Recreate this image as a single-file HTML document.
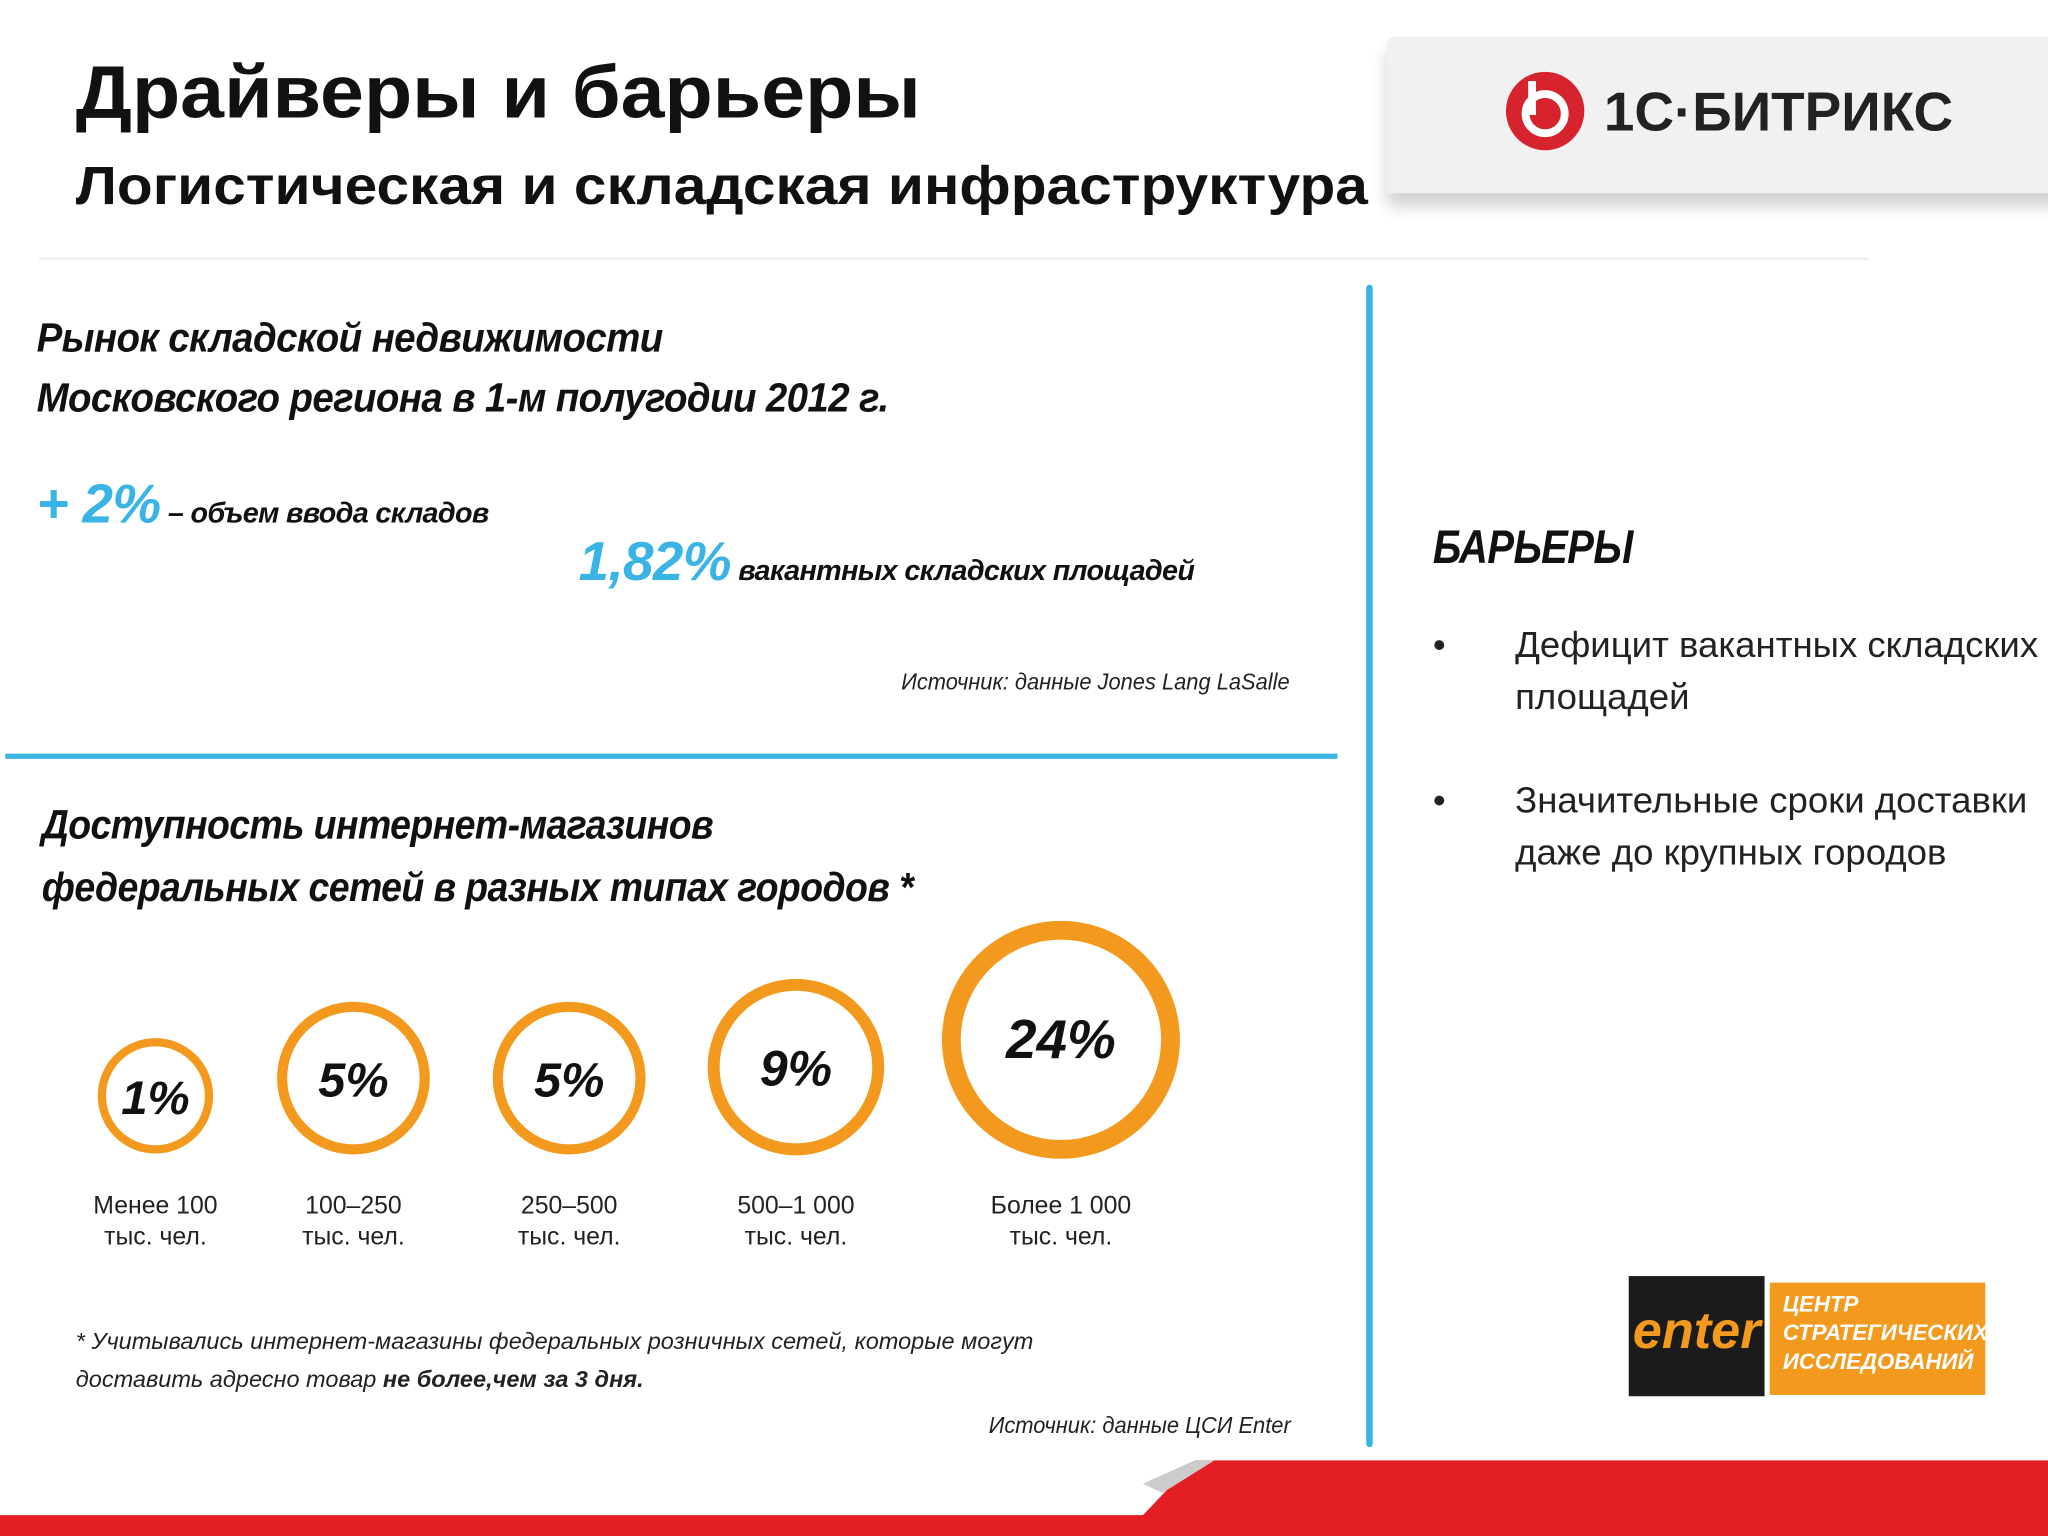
<!DOCTYPE html>
<html><head><meta charset="utf-8">
<style>
html,body{margin:0;padding:0;background:#fff;overflow:hidden}
#root{position:absolute;left:0;top:0;width:1568px;height:1176px;transform:scale(1.30612);transform-origin:0 0;font-family:"Liberation Sans","Noto Sans CJK SC",sans-serif;color:#111}
.a{position:absolute;white-space:nowrap}
.hand{font-style:italic;font-weight:bold;letter-spacing:-0.5px}
</style></head><body>
<div id="root">
<div class="a" style="left:58px;top:38px;font-size:57px;font-weight:bold;transform:scaleX(1.06);transform-origin:0 0">Драйверы и барьеры</div>
<div class="a" style="left:58px;top:119px;font-size:41px;font-weight:bold;transform:scaleX(1.095);transform-origin:0 0">Логистическая и складская инфраструктура</div>
<div class="a" style="left:1062px;top:28px;width:520px;height:120px;background:#f1f1f1;box-shadow:0 10px 12px rgba(0,0,0,0.18);border-radius:6px 0 0 0"></div>
<svg class="a" style="left:1150px;top:52px" width="66" height="66"><circle cx="33" cy="33" r="30" fill="#d7232e"/><circle cx="33" cy="35" r="15" fill="none" stroke="#fff" stroke-width="6"/><rect x="20" y="10" width="6" height="26" fill="#fff"/></svg>
<div class="a" style="left:1228px;top:62px;font-size:42px;font-weight:bold;color:#222">1С·БИТРИКС</div>
<div class="a" style="left:30px;top:197px;width:1400px;height:2px;background:#eee"></div>
<div class="a" style="left:1046px;top:218px;width:5px;height:890px;background:#3ab4e4;border-radius:3px"></div>
<div class="a" style="left:4px;top:577px;width:1020px;height:4px;background:#3ab4e4"></div>

<div class="a hand" style="left:28px;top:236px;font-size:31px;line-height:46px;transform:scaleX(0.95);transform-origin:0 0">Рынок складской недвижимости<br>Московского региона в 1-м полугодии 2012 г.</div>
<div class="a hand" style="left:28px;top:362px;font-size:22px"><span style="color:#3ab4e4;font-size:42px">+ 2%</span> – объем ввода складов</div>
<div class="a hand" style="left:443px;top:406px;font-size:22px"><span style="color:#3ab4e4;font-size:42px">1,82%</span> вакантных складских площадей</div>
<div class="a" style="left:690px;top:512px;font-size:18px;font-style:italic;color:#222;transform:scaleX(0.93);transform-origin:0 0">Источник: данные Jones Lang LaSalle</div>

<div class="a hand" style="left:32px;top:608px;font-size:31px;line-height:48px;transform:scaleX(0.925);transform-origin:0 0">Доступность интернет-магазинов<br>федеральных сетей в разных типах городов *</div>

<svg class="a" id="chart" style="left:0;top:690px" width="1040" height="290"></svg>

<div class="a" style="left:58px;top:1013px;font-size:18px;font-style:italic;line-height:29px;color:#222">* Учитывались интернет-магазины федеральных розничных сетей, которые могут<br>доставить адресно товар <b>не более,чем за 3 дня.</b></div>
<div class="a" style="left:757px;top:1081px;font-size:18px;font-style:italic;color:#222;transform:scaleX(0.93);transform-origin:0 0">Источник: данные ЦСИ Enter</div>

<div class="a hand" style="left:1097px;top:398px;font-size:36px;transform:scaleX(0.85);transform-origin:0 0">БАРЬЕРЫ</div>
<div class="a" style="left:1097px;top:474px;font-size:28px;line-height:40px;color:#222"><span style="position:absolute;left:0">•</span><span style="margin-left:63px;display:inline-block">Дефицит вакантных складских<br>площадей</span></div>
<div class="a" style="left:1097px;top:593px;font-size:28px;line-height:40px;color:#222"><span style="position:absolute;left:0">•</span><span style="margin-left:63px;display:inline-block">Значительные сроки доставки<br>даже до крупных городов</span></div>

<div class="a" style="left:1247px;top:977px;width:104px;height:92px;background:#1b1b1b"><div style="color:#f39a1e;font-size:40px;font-style:italic;font-weight:bold;text-align:center;margin-top:20px">enter</div></div>
<div class="a" style="left:1355px;top:982px;width:165px;height:86px;background:#f39a1e;color:#fff;font-size:17px;font-weight:bold;font-style:italic;line-height:22px;padding:6px 0 0 10px;box-sizing:border-box;overflow:hidden">ЦЕНТР<br>СТРАТЕГИЧЕСКИХ<br>ИССЛЕДОВАНИЙ</div>

<svg class="a" style="left:0;top:1118px" width="1568" height="58"><polygon points="915,0 1568,0 1568,58 860,58" fill="#e31e24"/><polygon points="875,18 915,0 930,0 890,25" fill="#ccc"/><rect x="0" y="42" width="1568" height="16" fill="#e31e24"/></svg>
</div>
<script>
const categories=["Менее 100|тыс. чел.","100–250|тыс. чел.","250–500|тыс. чел.","500–1 000|тыс. чел.","Более 1 000|тыс. чел."];
const values=[1,5,5,9,24];
const svg=document.getElementById('chart');
const NS='http://www.w3.org/2000/svg';
function rScale(v){return 30+11*Math.sqrt(v);}
const base=190;
let x=119,prevR=null;
values.forEach((v,i)=>{
  const r=rScale(v);
  if(prevR!==null)x+=prevR+r+56;
  prevR=r;
  const cy=base-r;
  const c=document.createElementNS(NS,'circle');
  c.setAttribute('cx',x);c.setAttribute('cy',cy);c.setAttribute('r',r);
  c.setAttribute('fill','none');c.setAttribute('stroke','#f39a1e');
  c.setAttribute('stroke-width',6+v*0.35);
  
  
  svg.appendChild(c);
  const t=document.createElementNS(NS,'text');
  t.setAttribute('x',x);t.setAttribute('y',cy+14);t.setAttribute('text-anchor','middle');
  t.setAttribute('font-size',36+v*0.25);t.setAttribute('font-weight','bold');t.setAttribute('font-style','italic');
  t.setAttribute('font-family','Liberation Sans, sans-serif');t.setAttribute('fill','#111');
  t.textContent=v+'%';
  
  
  svg.appendChild(t);
  categories[i].split('|').forEach((ln,j)=>{
    const l=document.createElementNS(NS,'text');
    l.setAttribute('x',x);l.setAttribute('y',base+49+j*24);l.setAttribute('text-anchor','middle');
    l.setAttribute('font-size',19);l.setAttribute('font-family','Liberation Sans, sans-serif');l.setAttribute('fill','#222');
    l.textContent=ln;
    
    
    svg.appendChild(l);
  });
});
</script>
</body></html>
